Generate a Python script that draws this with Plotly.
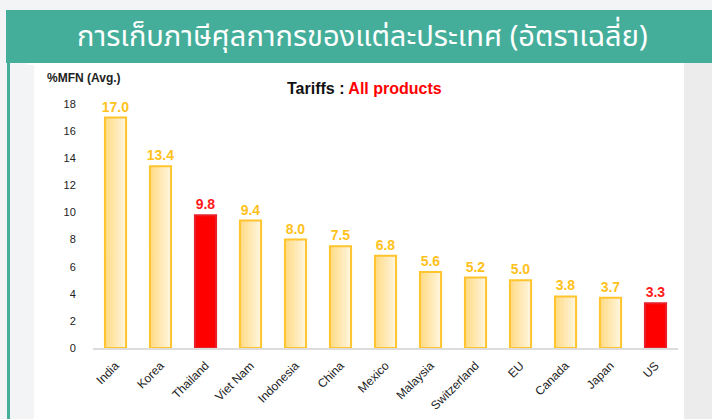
import plotly.graph_objects as go

countries = ["India", "Korea", "Thailand", "Viet Nam", "Indonesia", "China", "Mexico",
             "Malaysia", "Switzerland", "EU", "Canada", "Japan", "US"]
tariffs = [17.0, 13.4, 9.8, 9.4, 8.0, 7.5, 6.8, 5.6, 5.2, 5.0, 3.8, 3.7, 3.3]
highlight = ["Thailand", "US"]
y_ticks = [0, 2, 4, 6, 8, 10, 12, 14, 16, 18]

W, H = 712, 419
BW = 0.47
edge = ["#e8202a" if c in highlight else "#ffc42e" for c in countries]
txtc = ["#ff1a1a" if c in highlight else "#ffc21c" for c in countries]
solid = ["#ff0000" if c in highlight else "rgba(0,0,0,0)" for c in countries]

def lerp(c1, c2, t):
    a = [int(c1[i:i + 2], 16) for i in (1, 3, 5)]
    b = [int(c2[i:i + 2], 16) for i in (1, 3, 5)]
    return "#" + "".join(f"{round(x + (y - x) * t):02x}" for x, y in zip(a, b))

fig = go.Figure()
# gradient fill of the yellow bars, built from vertical strips of the same bars
N = 8
for k in range(N):
    col = lerp("#ffdb86", "#fff4da", k / (N - 1))
    fig.add_trace(go.Bar(
        x=countries, y=tariffs, width=BW / N + (0.008 if k < N - 1 else 0),
        offset=-BW / 2 + k * BW / N,
        marker=dict(color=["rgba(0,0,0,0)" if c in highlight else col for c in countries],
                    line=dict(width=0)),
        hoverinfo="skip", showlegend=False,
    ))
# outline, solid red bars and value labels
fig.add_trace(go.Bar(
    x=countries, y=tariffs, width=BW, offset=-BW / 2,
    marker=dict(color=solid, line=dict(color=edge, width=2)),
    text=[f"{v:.1f}" for v in tariffs], textposition="outside",
    texttemplate="<b>%{text}</b>", constraintext="none",
    textfont=dict(color=txtc, size=14, family="Liberation Sans, Arial"),
    cliponaxis=False, hoverinfo="skip", showlegend=False,
))

def px(x): return x / W
def py(y): return 1 - y / H

shapes = [
    dict(type="rect", xref="paper", yref="paper", x0=0, x1=1, y0=0, y1=1,
         fillcolor="#f3f4f5", line_width=0, layer="below"),
    dict(type="rect", xref="paper", yref="paper", x0=px(684), x1=1, y0=0, y1=py(63),
         fillcolor="#ececec", line_width=0, layer="below"),
    dict(type="rect", xref="paper", yref="paper", x0=px(34), x1=px(684), y0=0, y1=py(63),
         fillcolor="#ffffff", line_width=0, layer="below"),
    dict(type="rect", xref="paper", yref="paper", x0=px(6), x1=1, y0=py(63), y1=py(10),
         fillcolor="#44ae9b", line_width=0, layer="below"),
    dict(type="rect", xref="paper", yref="paper", x0=px(7), x1=px(10), y0=0, y1=py(63),
         fillcolor="#44ae9b", line_width=0, layer="below"),
    dict(type="rect", xref="paper", yref="paper", x0=px(27), x1=px(684), y0=py(65), y1=py(63),
         fillcolor="#ffffff", line_width=0, layer="below"),
]

annotations = [
    dict(text="การเก็บภาษีศุลกากรของแต่ละประเทศ (อัตราเฉลี่ย)", xref="paper", yref="paper",
         x=px(362), y=py(37), showarrow=False, xanchor="center", yanchor="middle",
         font=dict(color="white", size=29, family="Noto Sans Thai, Loma, Garuda, sans-serif")),
    dict(text="<b>%MFN (Avg.)</b>", xref="paper", yref="paper", x=px(45), y=py(78),
         showarrow=False, xanchor="left", yanchor="middle",
         font=dict(color="#222222", size=12, family="Liberation Sans, Arial")),
    dict(text="<b>Tariffs : </b><b><span style='color:#ff0000'>All products</span></b>",
         xref="paper", yref="paper", x=px(365), y=py(88), showarrow=False,
         xanchor="center", yanchor="middle",
         font=dict(color="#111111", size=16, family="Liberation Sans, Arial")),
]

y0px, y18px = 348, 104
ppu = (y0px - y18px) / 18
ymax = 18.5
top_px = y0px - ymax * ppu

fig.update_layout(
    width=W, height=H, margin=dict(l=0, r=0, t=0, b=0, pad=0), autosize=False,
    paper_bgcolor="#f3f4f5", plot_bgcolor="rgba(0,0,0,0)",
    showlegend=False, shapes=shapes, annotations=annotations, barmode="overlay",
    xaxis=dict(domain=[px(93), px(678)], range=[-0.5, 12.5], tickangle=-45,
               showline=True, linecolor="#dcdcdc", linewidth=2, showgrid=False,
               ticks="outside", ticklen=4, tickcolor="rgba(0,0,0,0)",
               tickfont=dict(size=12, color="#222222", family="Liberation Sans, Arial"),
               fixedrange=True, automargin=False),
    yaxis=dict(domain=[py(y0px), py(top_px)], range=[0, ymax], tickvals=y_ticks,
               showgrid=False, zeroline=False, showline=False,
               ticks="outside", ticklen=14, tickcolor="rgba(0,0,0,0)",
               tickprefix="<b>", ticksuffix="</b>",
               tickfont=dict(size=11, color="#222222", family="Liberation Sans, Arial"),
               fixedrange=True, automargin=False),
)

fig.write_html("out.html")
